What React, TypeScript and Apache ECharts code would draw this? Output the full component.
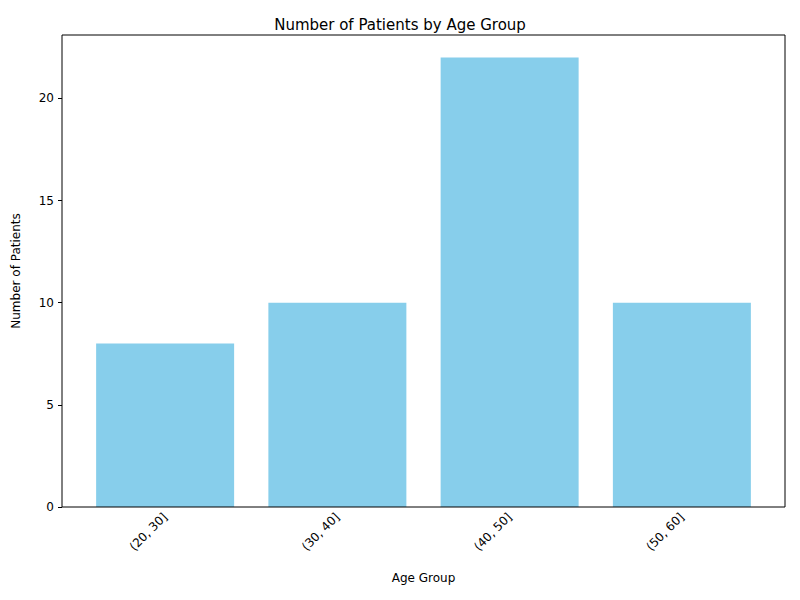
import React, { useEffect, useRef } from "react";
import * as echarts from "echarts";

const categories = ["(20, 30]", "(30, 40]", "(40, 50]", "(50, 60]"];
const patients = [8, 10, 22, 10];

export default function App() {
  const ref = useRef<HTMLDivElement>(null);
  useEffect(() => {
    const chart = echarts.init(ref.current!, null, { renderer: "svg" });
    const font = "DejaVu Sans";
    chart.setOption({
      animation: false,
      textStyle: { fontFamily: font },
      title: { text: "Number of Patients by Age Group", left: "center", top: 12, textStyle: { fontFamily: font, fontSize: 15, fontWeight: "normal", color: "#000" } },
      grid: { left: 79, right: 32, top: 35, bottom: 93 },
      graphic: [{ type: "rect", shape: { x: 62, y: 35, width: 723, height: 472 }, style: { fill: "none", stroke: "#000", lineWidth: 1 }, z: 10 }],
      xAxis: {
        type: "category", data: categories,
        name: "Age Group", nameLocation: "middle", nameGap: 65,
        nameTextStyle: { color: "#000", fontSize: 12, fontFamily: font },
        axisLine: { show: false },
        axisTick: { alignWithLabel: true, length: 4, lineStyle: { color: "#000" } },
        axisLabel: { rotate: 45, color: "#000", fontSize: 12, fontFamily: font, margin: 8 },
      },
      yAxis: {
        type: "value", min: 0, max: 23.1, interval: 5, offset: 17,
        name: "Number of Patients", nameLocation: "middle", nameGap: 40,
        nameTextStyle: { color: "#000", fontSize: 12, fontFamily: font },
        axisLine: { show: false },
        axisTick: { show: true, length: 4, lineStyle: { color: "#000" } },
        axisLabel: { color: "#000", fontSize: 12, fontFamily: font, showMaxLabel: false },
        splitLine: { show: false },
      },
      series: [{ type: "bar", data: patients, barWidth: 138, itemStyle: { color: "#87CEEB" } }],
    });
    return () => chart.dispose();
  }, []);
  return <div ref={ref} style={{ width: 800, height: 600, margin: -8 }} />;
}
